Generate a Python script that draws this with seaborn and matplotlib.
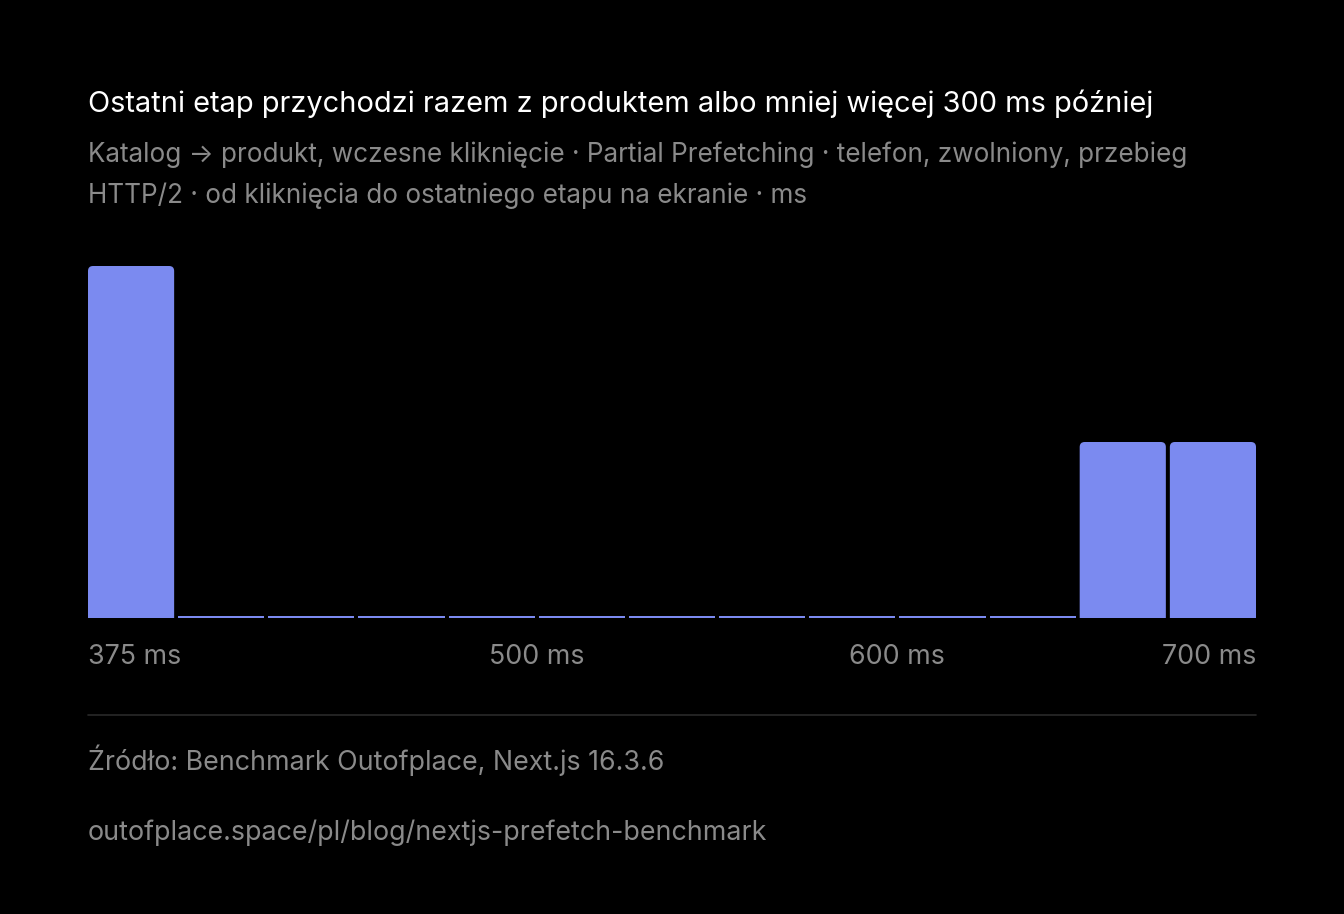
import numpy as np
import pandas as pd
import matplotlib
matplotlib.use('Agg')
import matplotlib.pyplot as plt
from matplotlib.patches import FancyBboxPatch, Rectangle
from matplotlib.lines import Line2D
import seaborn as sns

# ---------------- Data ----------------
bin_edges = [375, 400, 425, 450, 475, 500, 525, 550, 575, 600, 625, 650, 675, 700]
bin_counts = [2, 0, 0, 0, 0, 0, 0, 0, 0, 0, 0, 1, 1]
tick_values = [375, 500, 600, 700]
tick_labels = ["375 ms", "500 ms", "600 ms", "700 ms"]

title = "Ostatni etap przychodzi razem z produktem albo mniej więcej 300 ms później"
subtitle = ["Katalog → produkt, wczesne kliknięcie · Partial Prefetching · telefon, zwolniony, przebieg",
            "HTTP/2 · od kliknięcia do ostatniego etapu na ekranie · ms"]
source = "Źródło: Benchmark Outofplace, Next.js 16.3.6"
url = "outofplace.space/pl/blog/nextjs-prefetch-benchmark"

BAR = "#7b8af0"
GREY = "#8a8a8a"
BG = "#000000"

sns.set_theme(style="white")
plt.rcParams['font.family'] = ['Inter', 'DejaVu Sans']

W, H = 1344, 914
fig = plt.figure(figsize=(W / 100, H / 100), dpi=100, facecolor=BG)
# plot area in pixels: x 88..1256, y 266..618
ax = fig.add_axes([88 / W, 1 - 618 / H, (1256 - 88) / W, (618 - 266) / H])
ax.set_facecolor(BG)

df = pd.DataFrame({"start": bin_edges[:-1], "count": bin_counts})
sns.histplot(data=df, x="start", weights="count", bins=bin_edges, ax=ax,
             color=BAR, alpha=1, linewidth=0)
ax.set_xlim(bin_edges[0], bin_edges[-1])
ax.set_ylim(0, max(bin_counts))

# redraw bars as equal-width bands with rounded tops and small gaps
px_x = (bin_edges[-1] - bin_edges[0]) / (1256 - 88)
px_y = max(bin_counts) / (618 - 266)
gap = 4 * px_x
rad = 5 * px_x
patches = sorted(ax.patches, key=lambda p: p.get_x())
n = len(patches)
span = bin_edges[-1] - bin_edges[0]
bw = (span - (n - 1) * gap) / n
for i, p in enumerate(patches):
    h = p.get_height()
    p.remove()
    l = bin_edges[0] + i * (bw + gap)
    if h <= 0:
        ax.add_patch(Rectangle((l, 0), bw, 2 * px_y, color=BAR, lw=0, clip_on=False))
        continue
    # start below the baseline so the bottom corners get clipped away
    y0 = -10 * px_y
    ax.add_patch(FancyBboxPatch((l, y0), bw, h - y0,
                                boxstyle=f"round,pad=0,rounding_size={rad}",
                                mutation_aspect=px_y / px_x, color=BAR, lw=0))

ax.set_xticks(tick_values)
ax.set_xticklabels(tick_labels)
ax.tick_params(axis='x', length=0, pad=19, labelsize=19.3, labelcolor=GREY)
labs = ax.get_xticklabels()
labs[0].set_ha('left')
labs[-1].set_ha('right')
ax.set_yticks([])
ax.set_xlabel("")
ax.set_ylabel("")
sns.despine(ax=ax, left=True, bottom=True)

# texts
fig.text(88 / W, 1 - 104 / H, title, color="white", fontsize=20.9, va='center', ha='left')
fig.text(88 / W, 1 - 155 / H, subtitle[0], color=GREY, fontsize=18.8, va='center', ha='left')
fig.text(88 / W, 1 - 196 / H, subtitle[1], color=GREY, fontsize=18.8, va='center', ha='left')
fig.add_artist(Line2D([88 / W, 1256 / W], [1 - 715 / H, 1 - 715 / H], color="#2a2a2a", lw=1.2))
fig.text(88 / W, 1 - 760 / H, source, color=GREY, fontsize=19.3, va='center', ha='left')
fig.text(88 / W, 1 - 833 / H, url, color=GREY, fontsize=19.3, va='center', ha='left')

fig.savefig("out.png", dpi=100, facecolor=BG)
